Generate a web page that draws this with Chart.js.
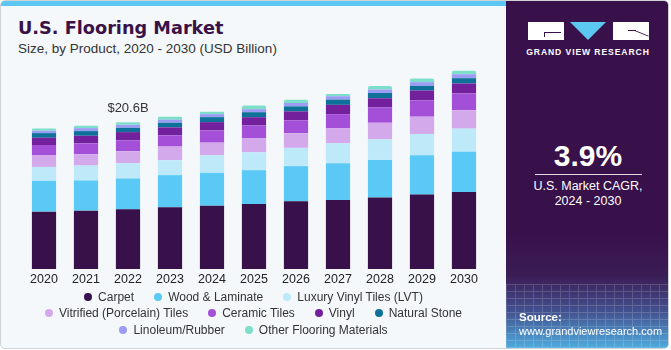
<!DOCTYPE html>
<html>
<head>
<meta charset="utf-8">
<script src="https://cdn.jsdelivr.net/npm/chart.js@4/dist/chart.umd.min.js"></script>
<style>
  body { margin: 0; width: 671px; height: 350px; background: #fff; overflow: hidden; font-family: 'Liberation Sans', Arial, sans-serif; }
  #card { position: absolute; left: 0; top: 0; width: 669px; height: 349px; background: #f4f8fb; border: 1px solid #cfd3d6; border-radius: 5px; box-sizing: border-box; overflow: hidden; }
  #strip { position: absolute; left: 0; top: 0; width: 505px; height: 5px; background: #5cc8f1; }
  #title { position: absolute; left: 17px; top: 17px; font-family: 'DejaVu Sans'; font-weight: bold; font-size: 17.7px; color: #3a1248; white-space: nowrap; }
  #subtitle { position: absolute; left: 17px; top: 40px; font-size: 13.5px; color: #333; white-space: nowrap; }
  #chartBox { position: absolute; left: 0; top: 50px; width: 505px; height: 240px; }
  #legend { position: absolute; left: 0; top: 288px; width: 505px; font-size: 12px; color: #333; }
  .row { display: flex; justify-content: center; height: 16.3px; align-items: center; white-space: nowrap; }
  .item { display: flex; align-items: center; margin: 0 10px; }
  .dot { width: 8px; height: 8px; border-radius: 50%; margin-right: 6px; }
  #side { position: absolute; left: 505px; top: 0; width: 164px; height: 349px; border-top-right-radius: 5px; overflow: hidden;
    background: linear-gradient(to bottom, #38104a 0px, #38104a 230px, #3b1d56 275px, #43508e 310px, #4fb0e2 349px); }
  #grid { position: absolute; left: 0; top: 283px; width: 164px; height: 66px; opacity: 0.16;
    background-image: repeating-linear-gradient(to right, #fff 0 1px, transparent 1px 9px), repeating-linear-gradient(to bottom, #fff 0 1px, transparent 1px 7px); }
  .w { position: absolute; background: #fff; }
  .k { position: absolute; background: #38104a; }
  #tri { position: absolute; left: 64px; top: 21px; width: 0; height: 0; border-left: 18.5px solid transparent; border-right: 18.5px solid transparent; border-top: 18px solid #5cc8f1; }
  #brand { position: absolute; left: 0; width: 164px; top: 46px; text-align: center; color: #fff; font-weight: bold; font-size: 8.6px; letter-spacing: 0.9px; }
  #cagr { position: absolute; left: 0; width: 164px; top: 138px; text-align: center; color: #fff; font-weight: bold; font-size: 30px; }
  #line { position: absolute; left: 29px; width: 107px; top: 173px; height: 1px; background: #fff; opacity: 0.85; }
  #cagrText { position: absolute; left: 0; width: 164px; top: 178px; text-align: center; color: #fff; font-size: 12.5px; line-height: 15px; }
  #source { position: absolute; left: 13px; top: 309px; color: #fff; font-size: 11px; line-height: 14px; }
  #source b { font-size: 11.5px; }
</style>
</head>
<body>
<div id="card">
  <div id="strip"></div>
  <div id="title">U.S. Flooring Market</div>
  <div id="subtitle">Size, by Product, 2020 - 2030 (USD Billion)</div>
  <div id="chartBox"><canvas id="myChart"></canvas></div>
  <div id="legend"></div>
  <div id="side">
    <div id="grid"></div>
    <div class="w" style="left:22px;top:21px;width:36px;height:18px"></div>
    <div class="k" style="left:38px;top:31px;width:17px;height:1px"></div>
    <div class="k" style="left:38px;top:31px;width:1px;height:5px"></div>
    <div id="tri"></div>
    <div class="w" style="left:107px;top:21px;width:36px;height:18px"></div>
    <div class="k" style="left:122px;top:29px;width:8px;height:1px"></div>
    <div class="k" style="left:129px;top:32px;width:14px;height:1px;transform:rotate(22deg)"></div>
    <div id="brand">GRAND VIEW RESEARCH</div>
    <div id="cagr">3.9%</div>
    <div id="line"></div>
    <div id="cagrText">U.S. Market CAGR,<br>2024 - 2030</div>
    <div id="source"><b>Source:</b><br>www.grandviewresearch.com</div>
  </div>
</div>
<script>
var years = ['2020', '2021', '2022', '2023', '2024', '2025', '2026', '2027', '2028', '2029', '2030']
var carpet = [8.04, 8.18, 8.37, 8.65, 8.88, 9.11, 9.49, 9.67, 10.04, 10.46, 10.79]
var woodLaminate = [4.32, 4.23, 4.32, 4.51, 4.60, 4.74, 4.93, 5.16, 5.25, 5.49, 5.63]
var lvt = [1.95, 2.09, 2.14, 2.09, 2.46, 2.51, 2.56, 2.79, 2.88, 2.98, 3.26]
var vitrified = [1.67, 1.58, 1.67, 1.91, 1.77, 1.95, 2.05, 2.14, 2.33, 2.42, 2.56]
var ceramic = [1.40, 1.53, 1.53, 1.58, 1.72, 1.81, 1.81, 1.95, 2.14, 2.28, 2.37]
var vinyl = [1.02, 1.07, 1.16, 1.12, 1.16, 1.16, 1.26, 1.30, 1.30, 1.40, 1.40]
var naturalStone = [0.65, 0.65, 0.60, 0.65, 0.70, 0.70, 0.70, 0.74, 0.74, 0.65, 0.74]
var linoleum = [0.33, 0.42, 0.42, 0.42, 0.42, 0.42, 0.47, 0.47, 0.47, 0.51, 0.56]
var otherMaterials = [0.33, 0.33, 0.37, 0.42, 0.33, 0.51, 0.47, 0.33, 0.51, 0.51, 0.47]

var seriesNames = ['Carpet', 'Wood & Laminate', 'Luxury Vinyl Tiles (LVT)', 'Vitrified (Porcelain) Tiles', 'Ceramic Tiles', 'Vinyl', 'Natural Stone', 'Linoleum/Rubber', 'Other Flooring Materials']
var seriesValues = [carpet, woodLaminate, lvt, vitrified, ceramic, vinyl, naturalStone, linoleum, otherMaterials]
var seriesColors = ['#38104a', '#5bc9f5', '#bde9f9', '#d4a9ec', '#a44fd8', '#73209c', '#0e7199', '#9c9cf5', '#7ddfc9']
var legendRows = [[0, 1, 2], [3, 4, 5, 6], [7, 8]]

var calloutIndex = 2
var calloutText = '$20.6B'

var datasets = seriesNames.map(function (name, i) {
  return {
    label: name,
    data: seriesValues[i],
    backgroundColor: seriesColors[i],
    borderWidth: 0,
    borderRadius: 2,
    barPercentage: 0.72,
    categoryPercentage: 0.8
  }
})

// value label over one bar
var calloutPlugin = {
  id: 'callout',
  afterDatasetsDraw: function (chart) {
    var ctx = chart.ctx
    var total = 0
    seriesValues.forEach(function (s) { total += s[calloutIndex] })
    var x = chart.scales.x.getPixelForValue(calloutIndex)
    var y = chart.scales.y.getPixelForValue(total)
    ctx.save()
    ctx.font = '13px "Liberation Sans"'
    ctx.fillStyle = '#333'
    ctx.textAlign = 'center'
    ctx.textBaseline = 'middle'
    ctx.fillText(calloutText, x, y - 14)
    ctx.restore()
  }
}

var ctx = document.getElementById('myChart').getContext('2d')
var chart = new Chart(ctx, {
  type: 'bar',
  data: { labels: years, datasets: datasets },
  plugins: [calloutPlugin],
  options: {
    responsive: true,
    maintainAspectRatio: false,
    animation: false,
    layout: { padding: { top: 4, bottom: 1, left: 22, right: 21 } },
    plugins: { legend: { display: false }, tooltip: { enabled: false } },
    scales: {
      x: {
        stacked: true,
        grid: { display: false, drawTicks: false },
        border: { display: false },
        ticks: { color: '#222', padding: 3, font: { size: 12.5, family: 'Liberation Sans' } }
      },
      y: {
        stacked: true,
        display: false,
        min: 0,
        max: 30
      }
    }
  }
})

var legend = document.getElementById('legend')
legendRows.forEach(function (row) {
  var r = document.createElement('div')
  r.className = 'row'
  row.forEach(function (i) {
    var item = document.createElement('div')
    item.className = 'item'
    var dot = document.createElement('span')
    dot.className = 'dot'
    dot.style.background = seriesColors[i]
    item.appendChild(dot)
    item.appendChild(document.createTextNode(seriesNames[i]))
    r.appendChild(item)
  })
  legend.appendChild(r)
})
</script>
</body>
</html>
